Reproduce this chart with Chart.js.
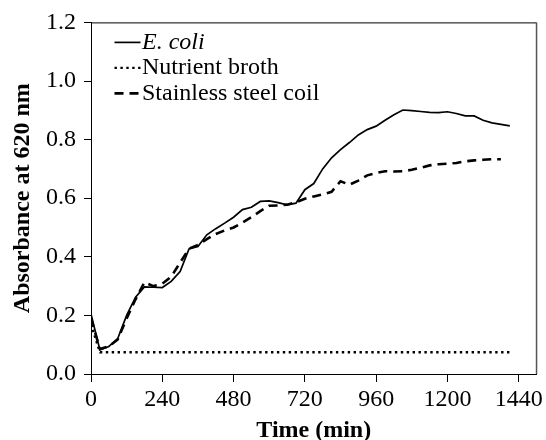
<!DOCTYPE html>
<html lang="en">
<head>
<meta charset="UTF-8">
<title>Absorbance at 620 nm</title>
<script src="https://cdn.jsdelivr.net/npm/chart.js@4.4.1/dist/chart.umd.min.js"></script>
<style>
    html, body { margin: 0; padding: 0; background: #fff; }
    #wrap { width: 546px; height: 440px; }
</style>
</head>
<body>
<div id="wrap"><canvas id="absChart"></canvas></div>
<script>
// sampling times (min)
const times = [0, 30, 60, 90, 120, 150, 180, 210, 240, 270, 300, 330, 360, 390, 420, 450,
               480, 510, 540, 570, 600, 630, 660, 690, 720, 750, 780, 810, 840, 870, 900, 930,
               960, 990, 1020, 1050, 1080, 1110, 1140, 1170, 1200, 1230, 1260, 1290, 1320, 1350,
               1380, 1410];

// absorbance at 620 nm
const ecoli = [0.205, 0.082, 0.094, 0.121, 0.200, 0.262, 0.297, 0.296, 0.295, 0.316, 0.350, 0.427,
               0.435, 0.475, 0.496, 0.515, 0.535, 0.561, 0.569, 0.589, 0.591, 0.585, 0.577, 0.583,
               0.629, 0.650, 0.700, 0.738, 0.766, 0.790, 0.816, 0.834, 0.846, 0.866, 0.885, 0.901,
               0.899, 0.896, 0.893, 0.892, 0.895, 0.889, 0.881, 0.881, 0.866, 0.857, 0.852, 0.847];
const broth = [0.170, 0.074, 0.074, 0.074, 0.074, 0.074, 0.074, 0.074, 0.074, 0.074, 0.074, 0.074,
               0.074, 0.074, 0.074, 0.074, 0.074, 0.074, 0.074, 0.074, 0.074, 0.074, 0.074, 0.074,
               0.074, 0.074, 0.074, 0.074, 0.074, 0.074, 0.074, 0.074, 0.074, 0.074, 0.074, 0.074,
               0.074, 0.074, 0.074, 0.074, 0.074, 0.074, 0.074, 0.074, 0.074, 0.074, 0.074, 0.074];
// no reading at 1410 min for the coil
const steel = [0.190, 0.085, 0.094, 0.118, 0.190, 0.255, 0.313, 0.300, 0.308, 0.332, 0.380, 0.428,
               0.440, 0.460, 0.478, 0.490, 0.500, 0.517, 0.535, 0.556, 0.574, 0.575, 0.578, 0.586,
               0.598, 0.606, 0.613, 0.622, 0.658, 0.646, 0.660, 0.678, 0.686, 0.692, 0.691, 0.692,
               0.697, 0.704, 0.712, 0.716, 0.718, 0.720, 0.726, 0.729, 0.731, 0.733, 0.733];

const seriesNames = ['E. coli', 'Nutrient broth', 'Stainless steel coil'];
const seriesItalic = [true, false, false];

const serif = "'Liberation Serif', 'Times New Roman', serif";

function toPoints(values) {
    return values.map((v, i) => ({ x: times[i], y: v }));
}

// legend drawn inside the plot, top-left
const innerLegend = {
    id: 'innerLegend',
    afterDatasetsDraw(chart) {
        const { ctx, chartArea: a } = chart;
        ctx.save();
        chart.data.datasets.forEach((ds, i) => {
            const y = a.top + 20 + i * 25.5;
            ctx.strokeStyle = ds.borderColor;
            ctx.lineWidth = ds.borderWidth;
            ctx.setLineDash(ds.borderDash || []);
            ctx.beginPath();
            ctx.moveTo(a.left + 23.5, y);
            ctx.lineTo(a.left + 49.5, y);
            ctx.stroke();
            ctx.setLineDash([]);
            ctx.fillStyle = '#000';
            ctx.font = (seriesItalic[i] ? 'italic ' : '') + '24px ' + serif;
            ctx.textBaseline = 'alphabetic';
            ctx.fillText(ds.label, a.left + 51, y + 6.5);
        });
        ctx.restore();
    }
};

// top and right edges of the plot box
const plotFrame = {
    id: 'plotFrame',
    afterDraw(chart) {
        const { ctx, chartArea: a } = chart;
        ctx.save();
        ctx.strokeStyle = '#000';
        ctx.lineWidth = 1;
        ctx.beginPath();
        ctx.moveTo(a.left, a.top + 0.5);
        ctx.lineTo(a.right, a.top + 0.5);
        ctx.stroke();
        ctx.strokeStyle = '#555';
        ctx.lineWidth = 1.5;
        ctx.beginPath();
        ctx.moveTo(a.right, a.top);
        ctx.lineTo(a.right, a.bottom);
        ctx.stroke();
        ctx.restore();
    }
};

const ctx = document.getElementById('absChart').getContext('2d');
const absChart = new Chart(ctx, {
    type: 'line',
    data: {
        datasets: [{
            label: seriesNames[0],
            data: toPoints(ecoli),
            borderColor: '#000',
            borderWidth: 1.7,
            pointRadius: 0,
            tension: 0
        }, {
            label: seriesNames[1],
            data: toPoints(broth),
            borderColor: '#000',
            borderWidth: 2.4,
            borderDash: [2.4, 3.5],
            pointRadius: 0,
            tension: 0
        }, {
            label: seriesNames[2],
            data: toPoints(steel),
            borderColor: '#000',
            borderWidth: 2.6,
            borderDash: [9, 6],
            pointRadius: 0,
            tension: 0
        }]
    },
    options: {
        responsive: true,
        maintainAspectRatio: false,
        animation: false,
        devicePixelRatio: 1,
        layout: { padding: { top: 20, right: 7, left: 0, bottom: 0 } },
        plugins: {
            legend: { display: false },
            tooltip: { enabled: false }
        },
        scales: {
            x: {
                type: 'linear',
                min: 0,
                max: 1500,
                afterFit(scale) { scale.height = 66; },
                border: { color: '#000', width: 1 },
                grid: { drawOnChartArea: false, drawTicks: true, tickLength: 8, color: '#000' },
                ticks: {
                    stepSize: 240,
                    includeBounds: false,
                    autoSkip: false,
                    maxRotation: 0,
                    padding: 3,
                    color: '#000',
                    font: { family: serif, size: 24 },
                    callback: v => String(v)
                },
                title: {
                    display: true,
                    text: 'Time (min)',
                    color: '#000',
                    font: { family: serif, size: 24, weight: 'bold', lineHeight: 1 },
                    padding: { bottom: -3 }
                }
            },
            y: {
                min: 0,
                max: 1.2,
                afterFit(scale) { scale.width = 91; },
                border: { color: '#000', width: 1 },
                grid: { drawOnChartArea: false, drawTicks: true, tickLength: 7, color: '#000' },
                ticks: {
                    stepSize: 0.2,
                    padding: 8,
                    color: '#000',
                    font: { family: serif, size: 24 },
                    callback: v => v.toFixed(1)
                },
                title: {
                    display: true,
                    text: 'Absorbance at 620 nm',
                    color: '#000',
                    font: { family: serif, size: 24, weight: 'bold', lineHeight: 1 },
                    padding: { top: 11 }
                }
            }
        }
    },
    plugins: [innerLegend, plotFrame]
});
</script>
</body>
</html>
